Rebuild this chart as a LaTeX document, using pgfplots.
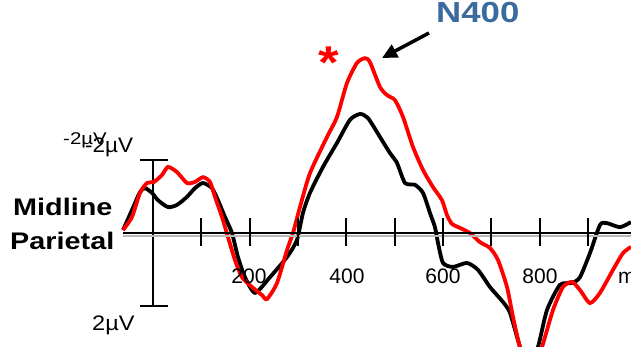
\documentclass[border=0pt]{standalone}
\usepackage{fontspec}
\setmainfont{Liberation Sans}
\usepackage{pgfplots}
\pgfplotsset{compat=1.18}
\usetikzlibrary{arrows.meta}
\definecolor{nblue}{RGB}{58,106,158}
\definecolor{ered}{RGB}{255,0,0}
\begin{document}
\begin{tikzpicture}
\useasboundingbox (0,0) rectangle (631pt,347pt);
\begin{axis}[at={(0,0)},anchor=south west,scale only axis,width=631pt,height=347pt,
  xmin=-316.4,xmax=988.7,ymin=-6.384,ymax=3.123,y dir=reverse,axis lines=none,clip=true]
% scale bar
\draw[line width=2.5pt] (axis cs:0,-2) -- (axis cs:0,2);
\draw[line width=2.5pt] (axis cs:-27,-2) -- (axis cs:31,-2);
\draw[line width=2.5pt] (axis cs:-27,2) -- (axis cs:31,2);
% black waveform
\addplot[black,line width=3.8pt,smooth,tension=0.4] coordinates {
(-62.0,-0.08) (-43.4,-0.63) (-26.9,-1.12) (-16.5,-1.23) (-2.1,-1.10) (10.3,-0.90)
(31.0,-0.71) (49.6,-0.77) (70.3,-0.99) (86.9,-1.23) (103.4,-1.37) (122.0,-1.23)
(134.4,-0.90) (148.9,-0.44) (163.4,0) (175.8,0.66) (190.3,1.21) (211.0,1.64)
(242.0,1.21) (277.1,0.66) (297.8,0.19) (310.2,-0.55) (324.7,-1.10) (351.6,-1.81)
(380.6,-2.47) (407.4,-3.10) (428.1,-3.26) (444.7,-3.15) (469.5,-2.63) (490.2,-2.19)
(504.7,-1.92) (521.2,-1.37) (541.9,-1.32) (558.4,-1.10) (572.9,-0.55) (583.2,-0.16)
(589.5,0.27) (599.8,0.82) (620.5,0.93) (649.4,0.82) (672.2,1.01) (697.0,1.48)
(723.9,1.89) (738.4,2.19) (759.0,3.12) (775.6,3.75) (796.3,3.12) (814.9,2.11)
(841.8,1.42) (866.6,1.37) (883.1,1.21) (903.8,0.55) (924.5,-0.22) (939.0,-0.27)
(965.9,-0.16) (988.6,-0.30)};
% red waveform
\addplot[ered,line width=3.8pt,smooth,tension=0.4] coordinates {
(-62.0,-0.08) (-43.4,-0.44) (-26.9,-1.10) (-12.4,-1.37) (2.1,-1.40) (18.6,-1.59)
(31.0,-1.81) (49.6,-1.67) (70.3,-1.37) (86.9,-1.40) (103.4,-1.53) (117.9,-1.40)
(128.2,-0.99) (142.7,-0.44) (155.1,0.11) (169.6,0.74) (184.1,1.21) (204.8,1.48)
(225.4,1.70) (235.8,1.81) (256.5,1.37) (277.1,0.47) (289.6,0) (304.0,-0.71)
(324.7,-1.64) (359.9,-2.63) (380.6,-3.18) (401.2,-4.11) (421.9,-4.66) (438.5,-4.79)
(448.8,-4.68) (469.5,-4.00) (484.0,-3.78) (500.5,-3.64) (517.1,-3.18) (537.7,-2.36)
(558.4,-1.73) (579.1,-1.26) (597.7,-0.90) (608.1,-0.49) (618.4,-0.25) (635.0,-0.14)
(655.6,0) (676.3,0.25) (697.0,0.41) (713.6,0.74) (732.2,1.48) (744.6,2.30)
(759.0,3.12) (781.8,3.89) (804.6,3.12) (827.3,2.11) (848.0,1.48) (866.6,1.34)
(883.1,1.56) (903.8,1.92) (924.5,1.64) (951.4,1.01) (972.1,0.55) (988.6,0.38)};
% time axis
\draw[gray!55,line width=2pt] (axis cs:-62,0.07) -- (axis cs:990,0.07);
\draw[black,line width=2.2pt] (axis cs:-62,0) -- (axis cs:990,0);
\pgfplotsinvokeforeach{100,200,...,900}{\draw[line width=2pt] (axis cs:#1,-0.41) -- (axis cs:#1,0.36);}
\end{axis}
\begin{scope}[x=1pt,y=-1pt,yshift=347pt]
\foreach \xx/\lab in {249/200,347/400,443/600,540/800,632/ms}
  {\node[font=\fontsize{21}{21}\selectfont,inner sep=0,anchor=base] at (\xx,284) {\lab};}
\node[font=\fontsize{17}{17}\selectfont,inner sep=0,anchor=base west,xscale=1.2] at (63,145) {-2µV};
\node[font=\fontsize{21}{21}\selectfont,inner sep=0,anchor=base west,xscale=1.07] at (85,153) {-2µV};
\node[font=\fontsize{21}{21}\selectfont,inner sep=0,anchor=base west,xscale=1.12] at (92,331) {2µV};
\node[font=\fontsize{24}{24}\selectfont\bfseries,inner sep=0,anchor=base west,xscale=1.2] at (13,216) {Midline};
\node[font=\fontsize{24}{24}\selectfont\bfseries,inner sep=0,anchor=base west,xscale=1.2] at (10,250) {Parietal};
\node[font=\fontsize{29}{29}\selectfont\bfseries,text=nblue,inner sep=0,anchor=base west,xscale=1.2] at (436,23) {N400};
\node[font=\fontsize{46}{46}\selectfont\bfseries,text=ered,inner sep=0,anchor=north,xscale=1.15] at (329,47) {*};
\draw[line width=3.5pt,-{Triangle[length=15pt,width=14pt]}] (429,33) -- (382,58);
\end{scope}
\end{tikzpicture}
\end{document}
